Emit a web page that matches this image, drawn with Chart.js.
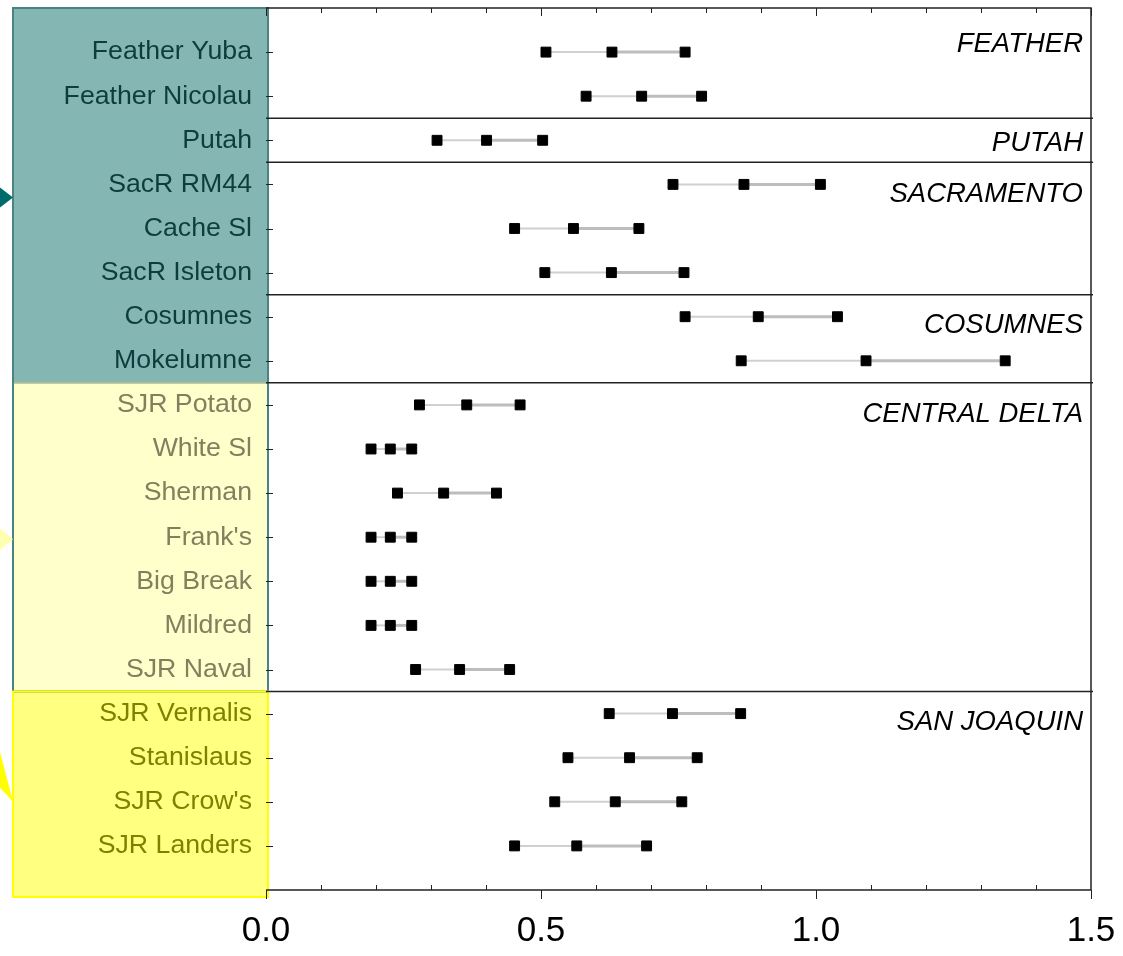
<!DOCTYPE html>
<html>
<head>
<meta charset="utf-8">
<script src="https://cdn.jsdelivr.net/npm/chart.js@4.4.1/dist/chart.umd.min.js"></script>
<style>
  html, body { margin: 0; padding: 0; background: #fff; }
  canvas { display: block; }
</style>
</head>
<body>
<canvas id="chart" width="1123" height="956"></canvas>
<script>
// sites, top to bottom
const sites = [
  "Feather Yuba", "Feather Nicolau", "Putah", "SacR RM44", "Cache Sl", "SacR Isleton",
  "Cosumnes", "Mokelumne", "SJR Potato", "White Sl", "Sherman", "Frank's", "Big Break",
  "Mildred", "SJR Naval", "SJR Vernalis", "Stanislaus", "SJR Crow's", "SJR Landers"
];
const lowVals  = [0.509, 0.582, 0.311, 0.740, 0.452, 0.507, 0.762, 0.864, 0.279, 0.191, 0.239, 0.191, 0.191, 0.191, 0.272, 0.624, 0.549, 0.525, 0.452];
const midVals  = [0.629, 0.683, 0.401, 0.869, 0.559, 0.628, 0.895, 1.091, 0.365, 0.226, 0.323, 0.226, 0.226, 0.226, 0.352, 0.739, 0.661, 0.635, 0.565];
const highVals = [0.762, 0.792, 0.503, 1.008, 0.678, 0.760, 1.039, 1.344, 0.462, 0.265, 0.419, 0.265, 0.265, 0.265, 0.443, 0.863, 0.784, 0.756, 0.692];

const groupNames    = ["FEATHER", "PUTAH", "SACRAMENTO", "COSUMNES", "CENTRAL DELTA", "SAN JOAQUIN"];
const groupFirstRow = [0, 2, 3, 6, 8, 15];
const groupLastRow  = [1, 2, 5, 7, 14, 18];

// label shading regions (first row of each)
const regionFirstRow = [0, 8, 15];

const xTickLabels = ["0.0", "0.5", "1.0", "1.5"];

const FONT = "'Liberation Sans', Arial, sans-serif";
const labelColors = ["#0f3c3c", "#80805f", "#7f7f00"];

function rowColor(i){
  if (i >= regionFirstRow[2]) return labelColors[2];
  if (i >= regionFirstRow[1]) return labelColors[1];
  return labelColors[0];
}

// left panel boxes + arrows, under the tick labels
const boxPlugin = {
  id: 'boxes',
  beforeDraw(chart){
    const { ctx, chartArea: a, scales: { y } } = chart;
    const x0 = 13, x1 = a.left + 2;
    const yTop = a.top;
    const yM1 = y.getPixelForValue(regionFirstRow[1] - 0.5);
    const yM2 = y.getPixelForValue(regionFirstRow[2] - 0.5);
    const yBot = a.bottom + 7;
    ctx.save();
    ctx.fillStyle = '#84b6b4'; ctx.fillRect(x0, yTop, x1 - x0, yM1 - yTop);
    ctx.fillStyle = '#ffffcc'; ctx.fillRect(x0, yM1, x1 - x0, yM2 - yM1);
    ctx.fillStyle = '#ffff80'; ctx.fillRect(x0, yM2, x1 - x0, yBot - yM2);

    ctx.lineWidth = 2;
    ctx.strokeStyle = '#4a8482';
    ctx.strokeRect(x0, yTop, x1 - x0, yM2 - yTop);
    ctx.strokeStyle = '#a8bc98';
    ctx.beginPath(); ctx.moveTo(x0 + 1, yM1); ctx.lineTo(x1 - 1, yM1); ctx.stroke();
    ctx.strokeStyle = '#ffff00';
    ctx.strokeRect(x0, yM2, x1 - x0, yBot - yM2);

    // arrows
    const tri = (pts, col) => {
      ctx.fillStyle = col;
      ctx.beginPath();
      ctx.moveTo(pts[0][0], pts[0][1]);
      pts.slice(1).forEach(p => ctx.lineTo(p[0], p[1]));
      ctx.closePath(); ctx.fill();
    };
    const ya = y.getPixelForValue(3) + 13;
    tri([[0, ya - 10], [x0, ya], [0, ya + 10]], '#006b6b');
    const yb = y.getPixelForValue(11) + 2;
    tri([[0, yb - 11], [x0, yb], [0, yb + 11]], '#ffffb0');
    const yc = y.getPixelForValue(17);
    tri([[0, yc - 50], [x0, yc], [0, yc - 14]], '#ffff00');
    ctx.restore();
  }
};

// frame, ticks, separators, group names
const framePlugin = {
  id: 'frame',
  afterDraw(chart){
    const { ctx, chartArea: a, scales: { x, y } } = chart;
    ctx.save();
    ctx.strokeStyle = '#222';
    ctx.lineWidth = 1.5;
    ctx.beginPath();
    ctx.moveTo(a.left, a.top); ctx.lineTo(a.right, a.top); ctx.lineTo(a.right, a.bottom); ctx.lineTo(a.left, a.bottom);
    ctx.stroke();

    ctx.lineWidth = 1;
    ctx.beginPath();
    for (let k = 0; k <= 15; k++){
      const px = Math.round(x.getPixelForValue(k / 10)) + 0.5;
      const major = k % 5 === 0;
      ctx.moveTo(px, a.top); ctx.lineTo(px, a.top + (major ? 8 : 5));
      if (major){ ctx.moveTo(px, a.bottom); ctx.lineTo(px, a.bottom + 9); }
      else { ctx.moveTo(px, a.bottom); ctx.lineTo(px, a.bottom - 5); }
    }
    sites.forEach((s, i) => {
      const py = Math.round(y.getPixelForValue(i)) + 0.5;
      ctx.moveTo(a.left, py); ctx.lineTo(a.left + 7, py);
    });
    ctx.stroke();

    ctx.lineWidth = 1.5;
    ctx.beginPath();
    groupLastRow.slice(0, -1).forEach(r => {
      const py = y.getPixelForValue(r + 0.5);
      ctx.moveTo(a.left, py); ctx.lineTo(a.right + 2, py);
    });
    ctx.stroke();

    const dy = [0, 11, 18, 16, 17, 16];
    ctx.fillStyle = '#000';
    ctx.font = 'italic 27.5px ' + FONT;
    ctx.textAlign = 'right';
    ctx.textBaseline = 'alphabetic';
    groupNames.forEach((g, i) => {
      ctx.fillText(g, a.right - 8, y.getPixelForValue(groupFirstRow[i]) + dy[i]);
    });
    ctx.restore();
  }
};

const datasets = sites.map((s, i) => ({
  label: s,
  data: [
    { x: lowVals[i], y: i },
    { x: midVals[i], y: i },
    { x: highVals[i], y: i }
  ],
  showLine: true,
  borderColor: '#c4c4c4',
  borderWidth: 2,
  segment: {
    borderColor: c => c.p0DataIndex === 0 ? '#d0d0d0' : '#bdbdbd',
    borderWidth: c => c.p0DataIndex === 0 ? 2 : 3
  },
  pointStyle: 'rect',
  pointRadius: 7,
  pointBackgroundColor: '#000',
  pointBorderColor: '#000',
  pointBorderWidth: 1
}));

new Chart(document.getElementById('chart'), {
  type: 'scatter',
  data: { datasets },
  options: {
    responsive: false,
    animation: false,
    layout: { padding: { top: 8, right: 32, bottom: 0, left: 0 } },
    plugins: { legend: { display: false }, tooltip: { enabled: false } },
    scales: {
      x: {
        type: 'linear',
        min: 0, max: 1.5,
        grid: { display: false, drawTicks: false },
        border: { display: false },
        ticks: {
          stepSize: 0.5,
          padding: 20,
          color: '#000',
          font: { family: FONT, size: 35 },
          callback: (v, i) => xTickLabels[i]
        },
        afterFit: s => { s.height = 66; s.paddingLeft = 0; s.paddingRight = 0; }
      },
      y: {
        type: 'linear',
        min: -1, max: 19,
        reverse: true,
        grid: { display: false, drawTicks: false },
        border: { display: false },
        ticks: {
          stepSize: 1,
          autoSkip: false,
          padding: 14,
          font: { family: FONT, size: 26.7 },
          color: c => rowColor(c.tick ? c.tick.value : 0),
          callback: v => (sites[v] !== undefined ? sites[v] : '')
        },
        afterFit: s => { s.width = 266; s.paddingTop = 0; s.paddingBottom = 0; }
      }
    }
  },
  plugins: [boxPlugin, framePlugin]
});
</script>
</body>
</html>
